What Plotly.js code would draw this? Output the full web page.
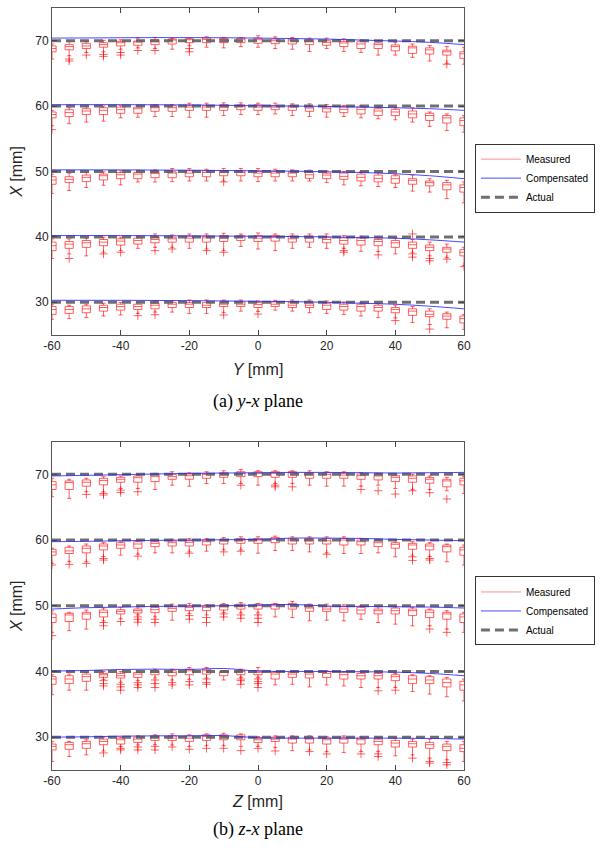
<!DOCTYPE html>
<html><head><meta charset="utf-8">
<script src="https://cdn.plot.ly/plotly-3.0.1.min.js"></script>
<style>html,body{margin:0;padding:0;background:#fff}#c{width:603px;height:848px}</style>
</head><body><div id="c"></div>
<script>
// ---------- data ----------
const pos = [-60,-55,-50,-45,-40,-35,-30,-25,-20,-15,-10,-5,0,5,10,15,20,25,30,35,40,45,50,55,60];
const levels = [30,40,50,60,70];
const compPos = [-60,-50,-40,-30,-20,-10,0,10,20,30,40,50,60];
const xTicks = [-60,-40,-20,0,20,40,60];
const xTickText = ['-60','-40','-20','0','20','40','60'];
const yTicks = [30,40,50,60,70];

// (a) y-x plane, measured box statistics
const a70_q3 = [69.2,69.4,69.6,69.7,69.9,69.95,70.15,70.25,70.3,70.4,70.35,70.4,70.4,70.25,70.3,70.15,70.0,69.9,69.85,69.65,69.35,69.15,68.9,68.55,68.3];
const a70_med = [68.8,69.1,69.2,69.4,69.7,69.8,69.85,70.1,70.15,70.2,70.2,70.25,70.15,70.0,70.1,69.95,69.75,69.65,69.5,69.4,69.1,68.9,68.6,68.3,68.0];
const a70_q1 = [68.3,68.6,68.8,69.0,69.2,69.3,69.4,69.5,69.7,69.7,69.7,69.7,69.6,69.55,69.5,69.4,69.3,69.1,68.8,68.8,68.45,68.05,67.95,67.8,67.3];
const a70_hi = [69.5,69.85,69.9,70.05,70.15,70.4,70.5,70.35,70.4,70.6,70.5,70.5,70.75,70.6,70.5,70.4,70.4,70.3,70.05,70.0,69.75,69.5,69.25,69.1,69.0];
const a70_lo = [67.2,67.7,68.2,68.3,68.7,68.9,68.8,68.7,69.2,69.0,68.9,69.1,69.0,68.8,68.7,68.35,68.8,68.35,68.2,67.8,67.8,67.45,66.9,66.55,66.4];

const a60_q3 = [59.1,59.45,59.6,59.75,59.85,59.85,60.0,60.05,60.1,60.1,60.2,60.2,60.2,60.1,60.1,59.95,59.85,59.85,59.85,59.6,59.5,59.25,58.9,58.55,58.2];
const a60_med = [58.7,59.0,59.25,59.35,59.45,59.6,59.75,59.75,59.85,59.85,59.85,59.95,59.85,59.85,59.85,59.7,59.6,59.5,59.5,59.25,59.1,58.8,58.55,58.2,57.8];
const a60_q1 = [58.2,58.4,58.7,58.7,58.9,58.9,59.2,59.2,59.35,59.35,59.35,59.45,59.35,59.45,59.35,59.2,59.1,59.0,58.8,58.55,58.55,58.2,57.8,57.4,57.0];
const a60_hi = [59.35,59.75,59.95,60.0,60.1,60.1,60.2,60.2,60.45,60.45,60.5,60.5,60.45,60.45,60.35,60.35,60.25,60.1,60.1,59.95,59.75,59.75,59.1,58.8,58.55];
const a60_lo = [57.0,57.3,57.55,57.7,58.2,58.3,58.4,58.4,58.3,58.3,58.55,58.7,58.7,58.8,58.55,58.4,58.3,58.4,58.2,58.05,57.9,57.55,56.9,56.25,56.0];

const a50_q3 = [49.2,49.2,49.45,49.6,49.85,49.85,49.95,49.95,50.1,50.1,50.1,50.1,50.0,50.0,49.95,49.85,49.75,49.75,49.6,49.45,49.35,48.9,48.55,48.3,47.95];
const a50_med = [48.7,48.8,49.1,49.35,49.5,49.6,49.7,49.75,49.75,49.85,49.85,49.85,49.75,49.75,49.75,49.5,49.45,49.25,49.1,48.95,48.9,48.65,48.3,47.95,47.55];
const a50_q1 = [48.05,48.3,48.45,48.7,48.9,48.9,49.05,49.05,49.2,49.2,49.35,49.35,49.2,49.2,49.2,48.95,48.9,48.8,48.55,48.4,48.2,48.05,47.8,47.2,46.85];
const a50_hi = [49.6,49.75,49.85,49.95,50.1,50.2,50.25,50.45,50.45,50.35,50.45,50.45,50.45,50.35,50.25,50.2,50.1,50.0,49.95,49.85,49.6,49.45,48.9,48.65,48.4];
const a50_lo = [46.65,47.1,47.55,47.9,47.95,48.4,48.4,48.45,48.55,48.55,48.55,48.55,48.45,48.55,48.55,48.55,48.3,47.95,47.8,47.7,47.55,47.0,46.85,45.85,45.2];

const a40_q3 = [39.2,39.3,39.45,39.6,39.7,39.8,39.95,39.95,40.1,40.1,40.2,40.2,40.2,40.2,40.1,40.1,39.95,39.85,39.8,39.6,39.45,39.2,38.75,38.4,38.05];
const a40_med = [38.65,38.9,39.1,39.2,39.35,39.45,39.6,39.7,39.8,39.85,39.8,39.95,39.8,39.9,39.7,39.8,39.6,39.45,39.45,39.3,39.1,38.8,38.4,38.15,37.65];
const a40_q1 = [37.9,38.25,38.4,38.65,38.75,38.9,39.1,39.2,39.2,39.2,39.3,39.45,39.3,39.35,39.2,39.2,39.1,38.9,38.75,38.65,38.4,38.25,37.9,37.65,37.1];
const a40_hi = [39.7,39.7,39.8,39.95,39.95,40.1,40.45,40.3,40.45,40.45,40.55,40.45,40.6,40.45,40.45,40.45,40.45,40.2,40.1,39.95,39.8,39.6,39.2,38.9,38.4];
const a40_lo = [36.7,37.4,37.1,37.65,37.9,38.25,38.4,38.4,38.25,38.15,37.9,38.55,38.15,37.9,38.25,38.4,38.25,38.25,37.8,37.75,37.4,37.65,37.1,36.85,35.6];

const a30_q3 = [29.35,29.35,29.45,29.55,29.7,29.7,29.85,29.95,29.95,29.95,30.05,30.05,29.95,30.05,29.95,29.95,29.85,29.7,29.7,29.55,29.2,29.0,28.65,28.25,27.9];
const a30_med = [28.9,28.9,29.0,29.2,29.35,29.35,29.55,29.7,29.7,29.55,29.7,29.7,29.65,29.7,29.55,29.55,29.55,29.35,29.35,29.2,28.9,28.65,28.15,27.9,27.5];
const a30_q1 = [28.15,28.3,28.4,28.65,28.8,28.9,29.0,29.2,29.2,29.2,29.35,29.35,29.2,29.35,29.2,29.2,28.9,28.8,28.65,28.65,28.4,28.0,27.8,27.4,26.85];
const a30_hi = [29.7,29.55,29.7,29.85,29.95,29.95,30.2,30.2,30.35,30.35,30.35,30.35,30.2,30.3,30.35,30.35,30.2,30.05,29.95,29.85,29.55,29.35,29.0,28.5,28.15];
const a30_lo = [27.4,27.5,27.65,27.9,28.05,28.3,28.5,28.5,28.3,28.3,28.4,28.65,28.6,28.8,28.65,28.4,28.3,28.15,27.9,27.65,27.6,26.9,26.6,26.1,25.85];

const aOut_x = [-55,-55,-50,-45,-45,-40,-40,-35,-30,-20,-20,55, -60, -10, -55,-45,-40,-30,-25,-15,-10,25,25,35,45,45,45,50,50,55,60, -35,-30,-10,0,40,50];
const aOut_y = [67.2,66.9,67.8,67.9,67.6,68.2,67.8,68.5,68.5,68.8,68.3,66.4, 56.4, 48.4, 36.7,37.4,37.65,37.9,38.15,37.9,37.65,37.9,37.65,37.25,40.45,37.4,36.9,36.7,36.35,36.6,35.45, 27.95,28.1,28.05,28.2,27.2,25.9];

// (a) compensated
const a70_comp = [70.4,70.42,70.45,70.47,70.47,70.45,70.4,70.33,70.25,70.1,69.95,69.75,69.4];
const a60_comp = [60.2,60.22,60.22,60.2,60.18,60.12,60.05,60.0,59.95,59.85,59.75,59.6,59.35];
const a50_comp = [50.25,50.25,50.25,50.22,50.2,50.15,50.1,50.05,49.95,49.85,49.65,49.35,48.9];
const a40_comp = [40.2,40.2,40.2,40.18,40.15,40.12,40.1,40.05,40.0,39.9,39.8,39.55,39.2];
const a30_comp = [30.3,30.3,30.3,30.28,30.25,30.2,30.15,30.1,30.0,29.85,29.7,29.4,29.0];

// (b) z-x plane, measured box statistics
const b70_q3 = [68.9,69.0,69.15,69.4,69.55,69.75,70.05,70.0,70.05,70.15,70.25,70.4,70.4,70.4,70.4,70.25,70.25,70.15,70.05,70.0,69.8,69.75,69.5,69.25,69.4];
const b70_med = [68.4,68.75,68.8,69.05,69.25,69.5,69.65,69.65,69.8,70.0,70.05,70.15,70.15,70.15,70.25,70.05,70.0,69.9,69.8,69.75,69.55,69.4,69.25,69.0,69.0];
const b70_q1 = [67.7,67.7,68.2,68.4,68.8,68.8,68.9,69.25,69.25,69.4,69.55,69.65,69.65,69.55,69.55,69.4,69.4,69.4,69.25,69.15,68.9,68.8,68.65,68.1,68.4];
const b70_hi = [69.4,69.25,69.4,69.65,69.75,69.9,70.15,70.4,70.25,70.4,70.55,70.75,70.55,70.55,70.55,70.55,70.4,70.4,70.25,70.15,70.05,70.0,69.75,69.55,69.65];
const b70_lo = [66.6,66.35,67.35,67.35,67.85,67.85,67.7,68.35,68.2,68.6,68.6,68.6,68.35,68.6,68.6,68.35,68.2,68.2,68.2,68.35,67.85,67.7,67.7,67.5,67.1];

const b60_q3 = [58.6,58.9,59.1,59.4,59.6,59.75,59.75,59.85,59.9,60.0,60.1,60.25,60.25,60.4,60.25,60.25,60.25,60.25,60.0,59.9,59.6,59.5,59.4,59.25,58.9];
const b60_med = [58.2,58.35,58.75,59.1,59.25,59.4,59.5,59.6,59.65,59.75,59.9,60.0,60.0,60.1,60.0,60.0,59.9,60.0,59.75,59.6,59.35,59.25,59.1,59.0,58.5];
const b60_q1 = [57.7,57.95,58.05,58.5,58.75,58.75,59.0,59.1,59.1,59.25,59.4,59.5,59.5,59.6,59.4,59.4,59.4,59.25,59.25,59.0,58.75,58.6,58.5,58.2,57.7];
const b60_hi = [58.75,59.1,59.4,59.6,59.75,59.9,60.0,60.1,60.25,60.25,60.4,60.5,60.5,60.6,60.5,60.5,60.5,60.5,60.25,60.1,59.9,59.75,59.6,59.4,59.25];
const b60_lo = [56.45,56.7,56.7,57.5,57.7,57.85,58.05,58.05,58.2,58.3,58.5,58.5,58.0,58.4,58.4,58.2,58.05,57.95,57.95,58.05,57.45,57.7,57.5,56.7,56.2];

const b50_q3 = [48.75,48.85,49.0,49.35,49.4,49.5,49.75,49.85,50.0,50.0,50.15,50.25,50.25,50.25,50.35,49.85,49.85,49.85,49.75,49.5,49.65,49.5,49.35,49.0,48.75];
const b50_med = [48.2,48.6,48.75,49.0,49.15,49.25,49.4,49.6,49.75,49.75,49.85,49.9,50.0,50.0,50.15,49.65,49.5,49.5,49.35,49.25,49.25,49.25,49.0,48.75,48.3];
const b50_q1 = [47.45,47.6,47.95,48.3,48.75,48.9,48.95,49.15,49.25,49.25,49.35,49.5,49.5,49.5,49.5,49.15,49.15,49.0,48.75,48.75,48.75,48.5,48.2,47.95,47.45];
const b50_hi = [49.25,49.0,49.35,49.65,49.75,49.85,50.0,50.25,50.35,50.15,50.35,50.5,50.35,50.35,50.65,50.25,50.25,50.15,50.0,49.85,49.85,49.75,49.5,49.25,49.0];
const b50_lo = [45.95,46.2,46.45,47.7,48.0,48.6,48.3,47.8,48.8,48.6,48.95,48.9,48.9,48.3,48.2,47.7,47.8,47.7,47.95,47.45,47.2,46.95,46.95,46.45,45.95];

const b40_q3 = [39.2,39.35,39.6,39.7,39.7,39.85,40.1,40.1,40.35,40.35,40.0,40.2,40.1,39.85,39.85,39.85,40.0,39.85,39.7,39.7,39.5,39.35,39.2,38.85,38.5];
const b40_med = [38.85,38.85,39.2,39.5,39.35,39.6,39.85,39.85,40.1,40.1,39.85,40.0,39.85,39.6,39.6,39.6,39.7,39.5,39.35,39.35,39.2,38.85,38.7,38.3,37.95];
const b40_q1 = [38.05,38.15,38.5,39.1,39.0,39.1,39.5,39.35,39.5,39.6,39.35,39.5,39.5,38.85,39.1,39.0,39.1,38.85,38.85,38.85,38.6,38.15,38.15,37.65,37.15];
const b40_hi = [39.5,39.6,39.85,40.0,40.0,40.1,40.35,40.35,40.6,40.6,40.1,40.35,40.6,40.0,40.0,40.0,40.1,40.0,40.0,39.85,39.7,39.5,39.35,39.1,38.85];
const b40_lo = [36.45,37.15,37.15,38.8,38.35,38.6,39.0,38.7,38.8,39.0,38.7,39.1,39.1,37.95,38.05,37.65,37.95,37.8,37.55,37.55,37.55,36.95,36.55,36.15,35.5];

const b30_q3 = [28.95,29.2,29.35,29.7,29.85,30.0,30.2,30.2,30.2,30.35,30.35,30.35,29.85,30.0,30.0,30.0,29.85,30.0,29.85,29.7,29.5,29.35,29.2,28.95,28.85];
const b30_med = [28.6,28.85,29.0,29.35,29.6,29.7,30.0,29.85,29.85,30.1,30.1,30.0,29.6,29.7,29.7,29.7,29.6,29.7,29.6,29.35,29.1,29.0,28.85,28.6,28.3];
const b30_q1 = [28.05,28.15,28.3,28.85,28.95,29.2,29.5,29.5,29.35,29.5,29.6,29.6,29.2,29.35,29.1,29.1,28.95,29.1,28.95,28.85,28.5,28.5,28.3,27.95,27.8];
const b30_hi = [29.35,29.35,29.6,30.0,30.0,30.2,30.35,30.5,30.35,30.5,30.6,30.5,30.1,30.2,30.2,30.2,30.1,30.2,30.1,30.0,29.85,29.7,29.7,29.35,29.35];
const b30_lo = [26.3,27.05,27.3,27.9,28.55,28.8,28.85,28.8,28.6,28.7,28.7,28.6,28.6,28.4,27.95,28.05,27.8,27.65,27.8,27.8,27.15,27.3,26.8,26.55,26.3];

const bOut_x = [-50,-45,-45,-40,-40,-35,-5,5,5,10,30,35,40,45,50,55,
  -60,-55,-50,-45,-45,-35,-20,-10,-5,20,45,45,50,50,
  -60,-45,-45,-40,-35,-35,-35,-30,-30,-20,-20,-15,-15,-10,-10,-5,-5,0,0,0,50,55,
  -45,-45,-45,-40,-40,-40,-35,-35,-35,-30,-30,-30,-25,-25,-20,-20,-15,-15,-15,-5,-5,-5,0,0,0,0,35,40,
  -45,-40,-40,-35,-35,-30,-30,-25,-20,-15,-10,-5,0,5,15,20,30,35,35,45,50,50,55,55];
const bOut_y = [66.95,67.1,66.85,67.6,67.25,67.35,68.35,68.35,68.1,68.1,67.7,67.5,67.0,67.5,67.2,66.25,
  56.2,56.3,56.45,57.2,56.95,57.55,58.0,58.2,58.3,57.85,57.45,56.9,57.2,56.95,
  45.45,47.45,46.95,47.6,48.3,47.95,47.5,47.95,47.45,48.5,47.95,48.2,47.45,48.75,48.3,48.6,48.1,48.6,48.1,47.45,46.45,45.95,
  38.6,38.15,37.8,38.05,37.65,37.15,38.3,37.95,37.55,38.7,38.15,37.55,38.3,37.95,38.45,37.95,38.85,38.3,38.05,38.85,38.6,38.05,38.85,38.45,38.15,37.55,37.05,37.15,
  27.6,28.3,28.05,28.5,28.05,28.6,28.05,28.5,28.15,28.3,28.3,27.95,28.3,27.9,27.8,27.45,27.45,27.45,27.05,26.8,26.3,26.05,26.15,25.8];

// (b) compensated
const b70_comp = [69.75,69.85,69.95,70.05,70.15,70.2,70.25,70.3,70.3,70.25,70.2,70.25,70.3];
const b60_comp = [59.75,59.8,59.9,59.95,60.0,60.05,60.1,60.3,60.3,60.25,60.1,60.0,59.9];
const b50_comp = [49.5,49.7,49.8,49.9,49.95,50.0,50.1,50.2,49.95,49.9,49.85,49.8,49.65];
const b40_comp = [40.05,40.15,40.3,40.35,40.3,40.45,40.05,40.0,40.0,39.95,39.9,39.7,39.35];
const b30_comp = [30.0,30.05,30.15,30.2,30.2,30.25,29.9,29.85,29.85,29.85,29.85,29.8,29.7];

// ---------- build ----------
const RED = 'rgba(255,0,0,0.62)';
const BLUE = 'rgba(40,40,255,0.85)';
const GRAY = 'rgba(95,95,95,0.9)';

const statsA = [
  [a30_q1,a30_med,a30_q3,a30_lo,a30_hi],[a40_q1,a40_med,a40_q3,a40_lo,a40_hi],
  [a50_q1,a50_med,a50_q3,a50_lo,a50_hi],[a60_q1,a60_med,a60_q3,a60_lo,a60_hi],
  [a70_q1,a70_med,a70_q3,a70_lo,a70_hi]];
const statsB = [
  [b30_q1,b30_med,b30_q3,b30_lo,b30_hi],[b40_q1,b40_med,b40_q3,b40_lo,b40_hi],
  [b50_q1,b50_med,b50_q3,b50_lo,b50_hi],[b60_q1,b60_med,b60_q3,b60_lo,b60_hi],
  [b70_q1,b70_med,b70_q3,b70_lo,b70_hi]];
const compA = [a30_comp,a40_comp,a50_comp,a60_comp,a70_comp];
const compB = [b30_comp,b40_comp,b50_comp,b60_comp,b70_comp];

const traces = [];
function addPanel(stats, comp, outX, outY, xa, ya, leg) {
  stats.forEach(s => traces.push({
    type:'box', x:pos, q1:s[0], median:s[1], q3:s[2], lowerfence:s[3], upperfence:s[4],
    xaxis:xa, yaxis:ya, width:2.4, whiskerwidth:0.5, boxpoints:false,
    line:{color:RED, width:1}, fillcolor:'rgba(0,0,0,0)', showlegend:false, hoverinfo:'skip'
  }));
  traces.push({type:'scatter', mode:'markers', x:outX, y:outY, xaxis:xa, yaxis:ya,
    marker:{symbol:'cross-thin', size:6, color:RED, line:{color:RED, width:1}},
    showlegend:false, hoverinfo:'skip'});
  const ax = [], ay = [];
  levels.forEach(L => { ax.push(pos[0], pos[pos.length-1], null); ay.push(L, L, null); });
  traces.push({type:'scatter', mode:'lines', x:ax, y:ay, xaxis:xa, yaxis:ya, name:'Actual',
    line:{color:GRAY, width:3, dash:'9px,5px'}, legend:leg, legendrank:3, hoverinfo:'skip'});
  comp.forEach((c,i) => traces.push({type:'scatter', mode:'lines', x:compPos, y:c, xaxis:xa, yaxis:ya,
    name:'Compensated', line:{color:BLUE, width:1, shape:'spline'}, showlegend:i===0,
    legend:leg, legendrank:2, hoverinfo:'skip'}));
  traces.push({type:'scatter', mode:'lines', x:[null], y:[null], xaxis:xa, yaxis:ya, name:'Measured',
    line:{color:'rgba(255,0,0,0.45)', width:1}, legend:leg, legendrank:1});
}
addPanel(statsA, compA, aOut_x, aOut_y, 'x', 'y', 'legend');
addPanel(statsB, compB, bOut_x, bOut_y, 'x2', 'y2', 'legend2');

const FONT = 'Liberation Sans, Arial, sans-serif';
const axisCommon = {
  range:[-60,60], tickvals:xTicks, ticktext:xTickText, ticks:'inside', ticklen:5, tickcolor:'#444',
  showline:true, mirror:'ticks', linecolor:'#555', linewidth:1, showgrid:false, zeroline:false,
  tickfont:{family:FONT, size:12, color:'#262626'}
};
const yCommon = {
  range:[25,75], tickvals:yTicks, ticks:'inside', ticklen:5, tickcolor:'#444',
  showline:true, mirror:'ticks', linecolor:'#555', linewidth:1, showgrid:false, zeroline:false,
  tickfont:{family:FONT, size:12, color:'#262626'},
  title:{text:'<i>X</i> [mm]', font:{family:FONT, size:16, color:'#262626'}, standoff:8}
};
const legCommon = {
  xanchor:'left', yanchor:'top', bgcolor:'#fff', bordercolor:'#333', borderwidth:1,
  font:{family:FONT, size:10, color:'#000'}, itemwidth:40, tracegroupgap:0
};

const layout = {
  width:603, height:848, paper_bgcolor:'#fff', plot_bgcolor:'#fff',
  margin:{l:52, r:136, t:8, b:78},
  showlegend:true, boxmode:'overlay',
  xaxis: Object.assign({}, axisCommon, {anchor:'y', domain:[0,1],
    title:{text:'<i>Y</i> [mm]', font:{family:FONT, size:16, color:'#262626'}, standoff:11}}),
  yaxis: Object.assign({}, yCommon, {anchor:'x', domain:[0.5709,1]}),
  xaxis2: Object.assign({}, axisCommon, {anchor:'y2', domain:[0,1],
    title:{text:'<i>Z</i> [mm]', font:{family:FONT, size:16, color:'#262626'}, standoff:8}}),
  yaxis2: Object.assign({}, yCommon, {anchor:'x2', domain:[0,0.4311]}),
  legend: Object.assign({}, legCommon, {x:1.0265, y:0.822}),
  legend2: Object.assign({}, legCommon, {x:1.0265, y:0.254}),
  annotations:[
    {text:'(a) <i>y</i>-<i>x</i> plane', xref:'paper', yref:'paper', x:0.5, y:0.483, yanchor:'middle', showarrow:false,
     font:{family:'Liberation Serif, Times New Roman, serif', size:18, color:'#000'}},
    {text:'(b) <i>z</i>-<i>x</i> plane', xref:'paper', yref:'paper', x:0.5, y:-0.0787, yanchor:'middle', showarrow:false,
     font:{family:'Liberation Serif, Times New Roman, serif', size:18, color:'#000'}}
  ]
};
Plotly.newPlot('c', traces, layout, {staticPlot:true, displayModeBar:false});
</script></body></html>
